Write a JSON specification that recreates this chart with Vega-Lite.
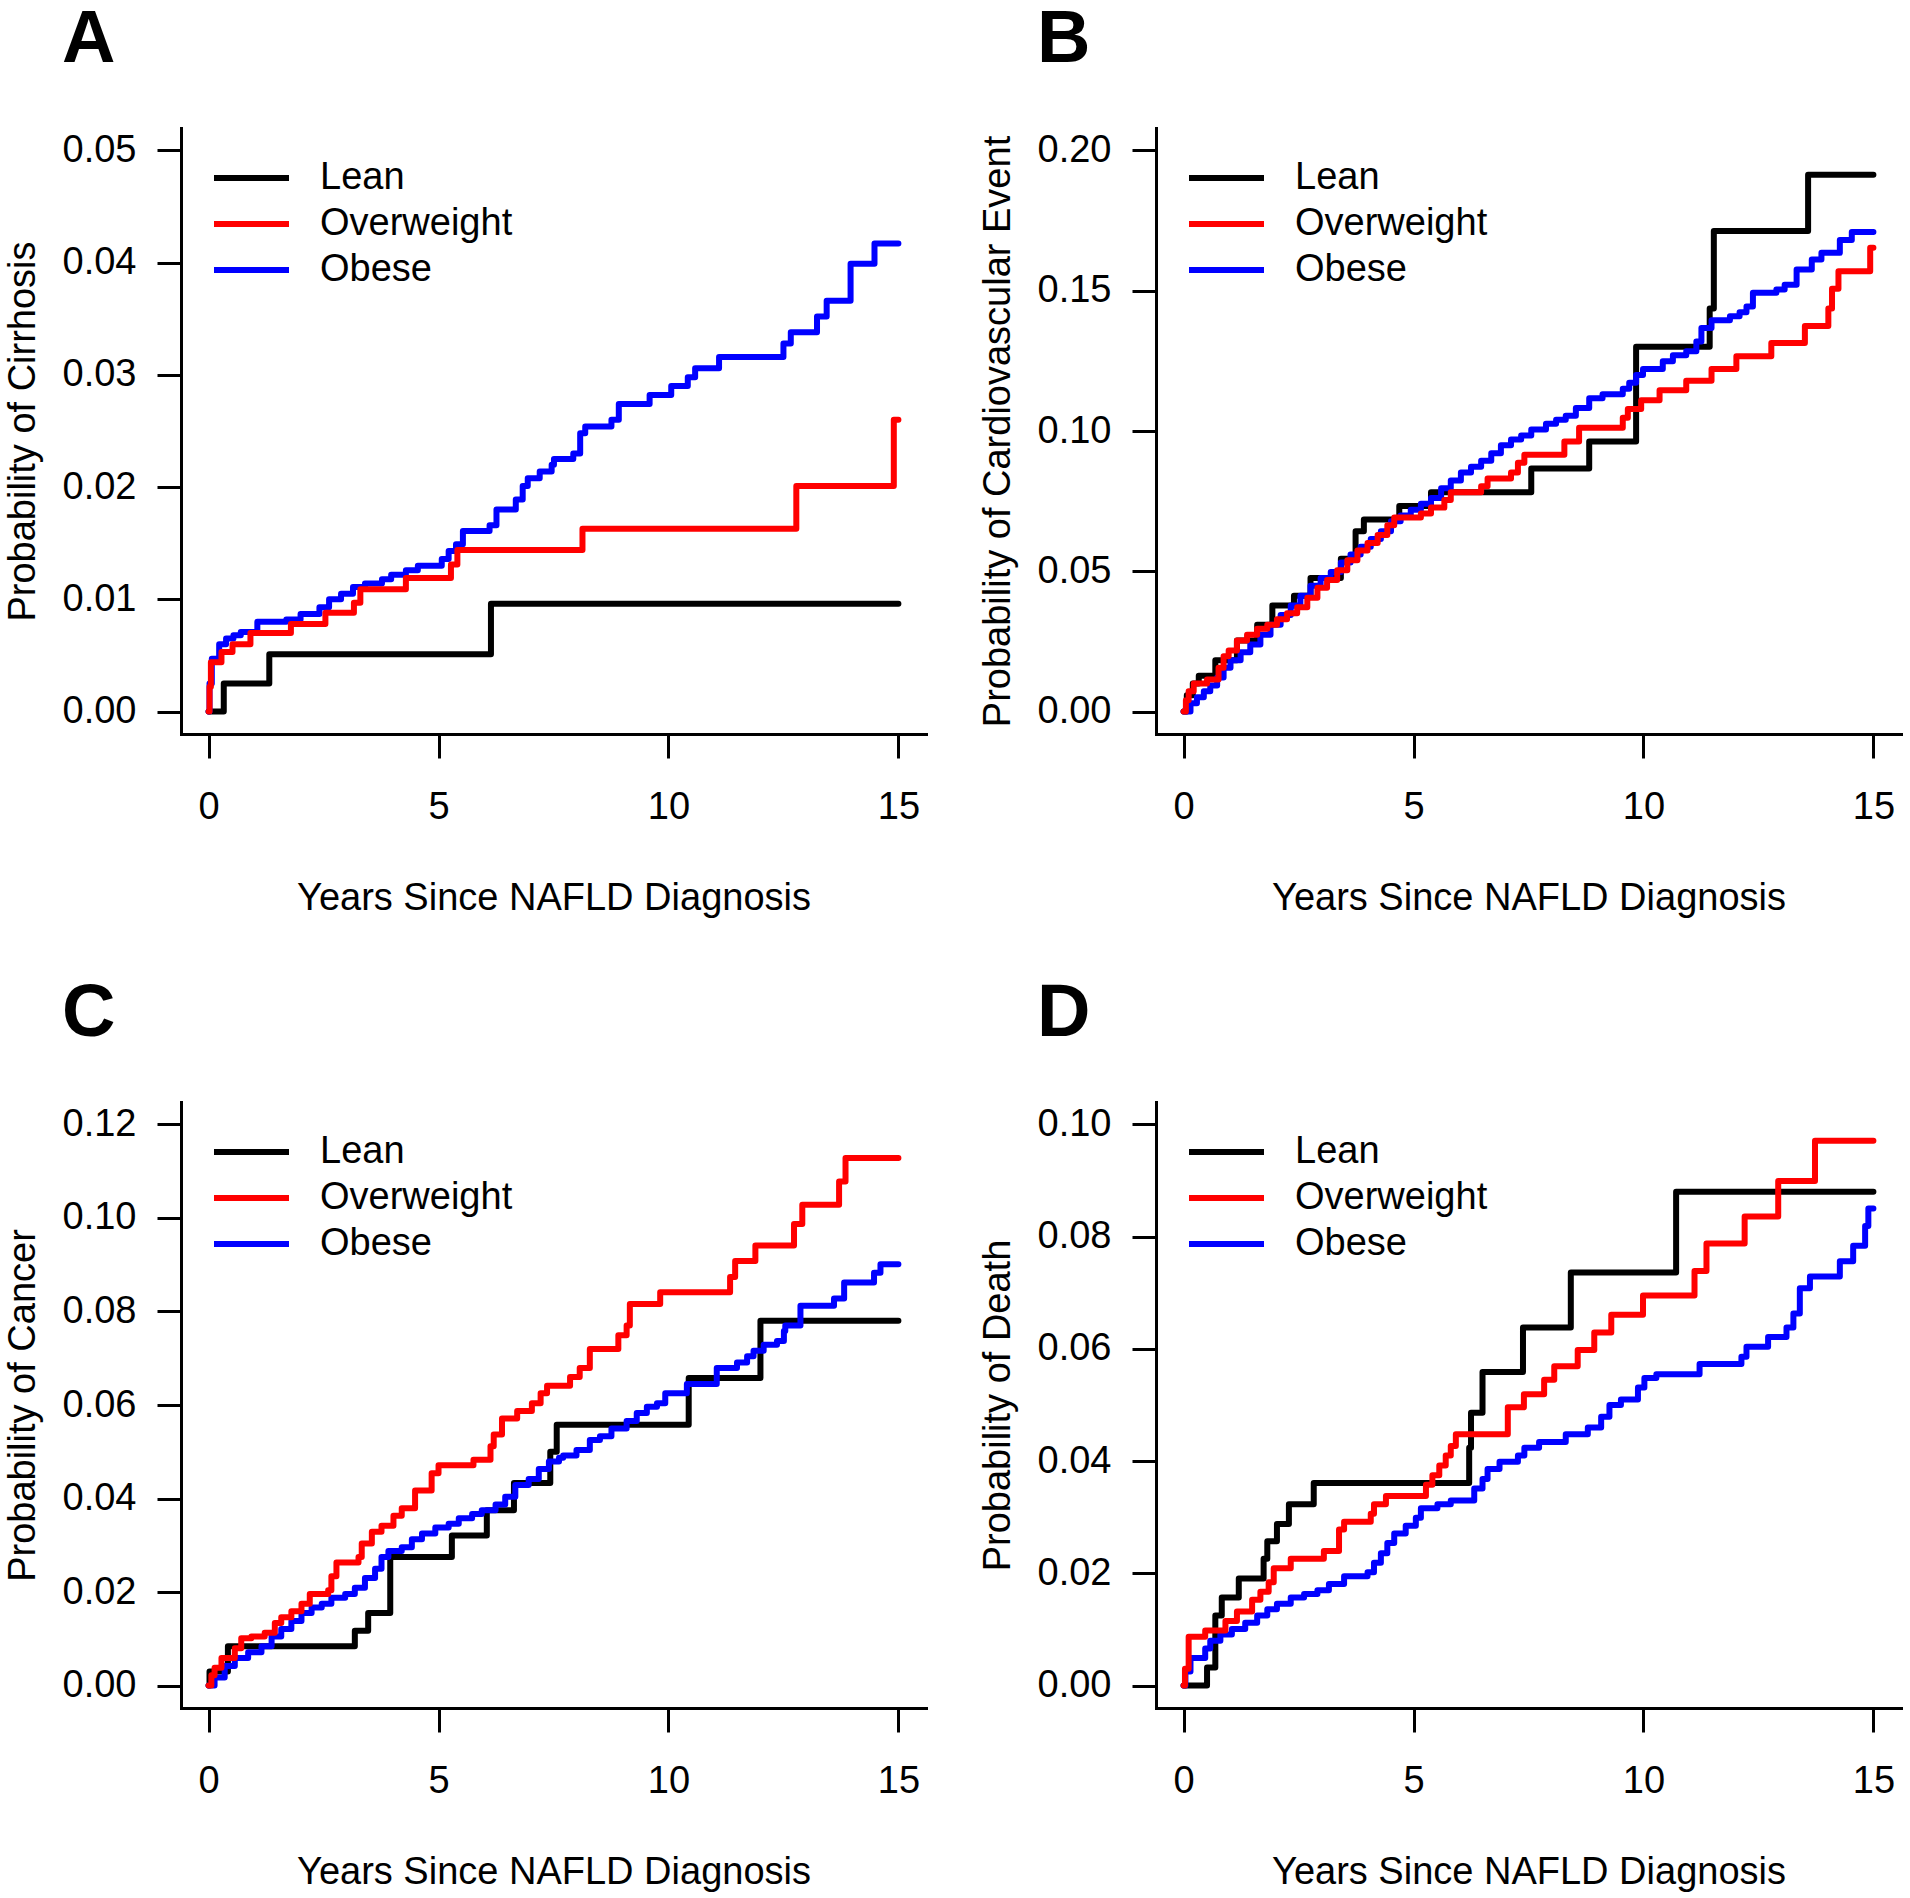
{
  "$schema": "https://vega.github.io/schema/vega-lite/v6.json",
  "background": "white",
  "padding": {"left": 4, "top": 3, "right": 5, "bottom": 5},
  "config": {
    "view": {"stroke": null},
    "font": "Liberation Sans",
    "axis": {"grid": false, "domainColor": "black", "domainWidth": 3, "domainCap": "square", "tickColor": "black", "tickWidth": 3, "tickSize": 24, "labelFont": "Liberation Sans", "labelFontSize": 38, "labelColor": "black", "titleFont": "Liberation Sans", "titleFontSize": 38, "titleFontWeight": "normal", "titleColor": "black", "labelOverlap": false, "labelFlush": false},
    "axisX": {"labelPadding": 60, "labelBaseline": "alphabetic", "titleY": 175, "titleBaseline": "alphabetic"},
    "axisY": {"labelPadding": 21, "titleX": -147, "titleBaseline": "alphabetic"},
    "title": {"anchor": "start", "frame": "group", "dx": -119, "offset": 50, "baseline": "alphabetic", "fontSize": 74, "fontWeight": "bold", "font": "Liberation Sans", "color": "black"},
    "line": {"interpolate": "step-after", "strokeWidth": 6, "strokeCap": "round", "strokeJoin": "round"}
  },
  "datasets": {
    "A": [
      {"group":"Lean","years":0,"prob":0},{"group":"Lean","years":0.33,"prob":0.0025},{"group":"Lean","years":1.32,"prob":0.0051},{"group":"Lean","years":6.14,"prob":0.0096},{"group":"Lean","years":15,"prob":0.0096},
      {"group":"Obese","years":0,"prob":0},{"group":"Obese","years":0.02,"prob":0.0025},{"group":"Obese","years":0.07,"prob":0.0047},{"group":"Obese","years":0.23,"prob":0.006},{"group":"Obese","years":0.38,"prob":0.0065},{"group":"Obese","years":0.54,"prob":0.0068},{"group":"Obese","years":0.7,"prob":0.0071},{"group":"Obese","years":1.06,"prob":0.008},{"group":"Obese","years":1.69,"prob":0.0082},{"group":"Obese","years":2.0,"prob":0.0087},{"group":"Obese","years":2.41,"prob":0.0093},{"group":"Obese","years":2.62,"prob":0.01},{"group":"Obese","years":2.88,"prob":0.0105},{"group":"Obese","years":3.14,"prob":0.0111},{"group":"Obese","years":3.4,"prob":0.0114},{"group":"Obese","years":3.77,"prob":0.0118},{"group":"Obese","years":3.97,"prob":0.0122},{"group":"Obese","years":4.29,"prob":0.0126},{"group":"Obese","years":4.55,"prob":0.013},{"group":"Obese","years":5.07,"prob":0.0136},{"group":"Obese","years":5.22,"prob":0.0143},{"group":"Obese","years":5.38,"prob":0.0149},{"group":"Obese","years":5.53,"prob":0.0161},{"group":"Obese","years":6.11,"prob":0.0166},{"group":"Obese","years":6.26,"prob":0.018},{"group":"Obese","years":6.68,"prob":0.0189},{"group":"Obese","years":6.83,"prob":0.0201},{"group":"Obese","years":6.94,"prob":0.0208},{"group":"Obese","years":7.2,"prob":0.0214},{"group":"Obese","years":7.46,"prob":0.022},{"group":"Obese","years":7.51,"prob":0.0225},{"group":"Obese","years":7.93,"prob":0.023},{"group":"Obese","years":8.08,"prob":0.0248},{"group":"Obese","years":8.19,"prob":0.0254},{"group":"Obese","years":8.76,"prob":0.026},{"group":"Obese","years":8.92,"prob":0.0274},{"group":"Obese","years":9.59,"prob":0.0282},{"group":"Obese","years":10.06,"prob":0.029},{"group":"Obese","years":10.42,"prob":0.0298},{"group":"Obese","years":10.58,"prob":0.0306},{"group":"Obese","years":11.1,"prob":0.0316},{"group":"Obese","years":12.5,"prob":0.0328},{"group":"Obese","years":12.66,"prob":0.0338},{"group":"Obese","years":13.23,"prob":0.0352},{"group":"Obese","years":13.44,"prob":0.0366},{"group":"Obese","years":13.96,"prob":0.0399},{"group":"Obese","years":14.48,"prob":0.0417},{"group":"Obese","years":15,"prob":0.0417},
      {"group":"Overweight","years":0,"prob":0},{"group":"Overweight","years":0.02,"prob":0.0022},{"group":"Overweight","years":0.05,"prob":0.0044},{"group":"Overweight","years":0.28,"prob":0.0053},{"group":"Overweight","years":0.52,"prob":0.006},{"group":"Overweight","years":0.91,"prob":0.007},{"group":"Overweight","years":1.79,"prob":0.0078},{"group":"Overweight","years":2.54,"prob":0.0088},{"group":"Overweight","years":3.16,"prob":0.0097},{"group":"Overweight","years":3.3,"prob":0.0109},{"group":"Overweight","years":4.29,"prob":0.0119},{"group":"Overweight","years":5.27,"prob":0.0131},{"group":"Overweight","years":5.41,"prob":0.0144},{"group":"Overweight","years":8.13,"prob":0.0163},{"group":"Overweight","years":12.78,"prob":0.0201},{"group":"Overweight","years":14.9,"prob":0.026},{"group":"Overweight","years":15,"prob":0.026}
    ],
    "B": [
      {"group":"Lean","years":0,"prob":0},{"group":"Lean","years":0.07,"prob":0.0058},{"group":"Lean","years":0.2,"prob":0.01},{"group":"Lean","years":0.33,"prob":0.0128},{"group":"Lean","years":0.69,"prob":0.0183},{"group":"Lean","years":1.16,"prob":0.0253},{"group":"Lean","years":1.6,"prob":0.0309},{"group":"Lean","years":1.93,"prob":0.0378},{"group":"Lean","years":2.4,"prob":0.0413},{"group":"Lean","years":2.76,"prob":0.0476},{"group":"Lean","years":3.42,"prob":0.0545},{"group":"Lean","years":3.74,"prob":0.0643},{"group":"Lean","years":3.92,"prob":0.0685},{"group":"Lean","years":4.69,"prob":0.0733},{"group":"Lean","years":5.38,"prob":0.0782},{"group":"Lean","years":7.56,"prob":0.0866},{"group":"Lean","years":8.82,"prob":0.0963},{"group":"Lean","years":9.84,"prob":0.13},{"group":"Lean","years":11.44,"prob":0.1437},{"group":"Lean","years":11.53,"prob":0.1713},{"group":"Lean","years":13.58,"prob":0.1913},{"group":"Lean","years":15,"prob":0.1913},
      {"group":"Obese","years":0,"prob":0},{"group":"Obese","years":0.15,"prob":0.003},{"group":"Obese","years":0.29,"prob":0.0051},{"group":"Obese","years":0.44,"prob":0.0072},{"group":"Obese","years":0.58,"prob":0.0093},{"group":"Obese","years":0.73,"prob":0.0121},{"group":"Obese","years":0.87,"prob":0.0156},{"group":"Obese","years":1.02,"prob":0.0183},{"group":"Obese","years":1.24,"prob":0.0211},{"group":"Obese","years":1.45,"prob":0.0239},{"group":"Obese","years":1.67,"prob":0.0274},{"group":"Obese","years":1.89,"prob":0.0309},{"group":"Obese","years":2.11,"prob":0.0344},{"group":"Obese","years":2.33,"prob":0.0378},{"group":"Obese","years":2.54,"prob":0.0413},{"group":"Obese","years":2.76,"prob":0.0448},{"group":"Obese","years":2.98,"prob":0.0476},{"group":"Obese","years":3.2,"prob":0.0497},{"group":"Obese","years":3.42,"prob":0.0531},{"group":"Obese","years":3.63,"prob":0.056},{"group":"Obese","years":3.85,"prob":0.0587},{"group":"Obese","years":4.07,"prob":0.0615},{"group":"Obese","years":4.29,"prob":0.0643},{"group":"Obese","years":4.51,"prob":0.0678},{"group":"Obese","years":4.72,"prob":0.0699},{"group":"Obese","years":4.94,"prob":0.0719},{"group":"Obese","years":5.16,"prob":0.0741},{"group":"Obese","years":5.38,"prob":0.0761},{"group":"Obese","years":5.6,"prob":0.0796},{"group":"Obese","years":5.81,"prob":0.0824},{"group":"Obese","years":6.03,"prob":0.0852},{"group":"Obese","years":6.25,"prob":0.0873},{"group":"Obese","years":6.47,"prob":0.0894},{"group":"Obese","years":6.69,"prob":0.0921},{"group":"Obese","years":6.9,"prob":0.0949},{"group":"Obese","years":7.12,"prob":0.097},{"group":"Obese","years":7.34,"prob":0.0984},{"group":"Obese","years":7.56,"prob":0.1005},{"group":"Obese","years":7.88,"prob":0.1026},{"group":"Obese","years":8.1,"prob":0.104},{"group":"Obese","years":8.31,"prob":0.1054},{"group":"Obese","years":8.53,"prob":0.1082},{"group":"Obese","years":8.82,"prob":0.1117},{"group":"Obese","years":9.11,"prob":0.1131},{"group":"Obese","years":9.55,"prob":0.1151},{"group":"Obese","years":9.69,"prob":0.1172},{"group":"Obese","years":9.84,"prob":0.12},{"group":"Obese","years":9.99,"prob":0.1221},{"group":"Obese","years":10.42,"prob":0.1249},{"group":"Obese","years":10.64,"prob":0.127},{"group":"Obese","years":10.93,"prob":0.1284},{"group":"Obese","years":11.15,"prob":0.1319},{"group":"Obese","years":11.26,"prob":0.1367},{"group":"Obese","years":11.48,"prob":0.1395},{"group":"Obese","years":11.88,"prob":0.1409},{"group":"Obese","years":12.09,"prob":0.1423},{"group":"Obese","years":12.24,"prob":0.1444},{"group":"Obese","years":12.38,"prob":0.1493},{"group":"Obese","years":12.89,"prob":0.1504},{"group":"Obese","years":13.07,"prob":0.1521},{"group":"Obese","years":13.33,"prob":0.1576},{"group":"Obese","years":13.66,"prob":0.1611},{"group":"Obese","years":13.87,"prob":0.1635},{"group":"Obese","years":14.27,"prob":0.1681},{"group":"Obese","years":14.53,"prob":0.1709},{"group":"Obese","years":15,"prob":0.1709},
      {"group":"Overweight","years":0,"prob":0},{"group":"Overweight","years":0.05,"prob":0.004},{"group":"Overweight","years":0.11,"prob":0.0072},{"group":"Overweight","years":0.22,"prob":0.01},{"group":"Overweight","years":0.51,"prob":0.0114},{"group":"Overweight","years":0.76,"prob":0.0156},{"group":"Overweight","years":0.87,"prob":0.0197},{"group":"Overweight","years":0.98,"prob":0.0218},{"group":"Overweight","years":1.16,"prob":0.0253},{"group":"Overweight","years":1.38,"prob":0.0274},{"group":"Overweight","years":1.6,"prob":0.0295},{"group":"Overweight","years":1.82,"prob":0.0309},{"group":"Overweight","years":2.03,"prob":0.0329},{"group":"Overweight","years":2.25,"prob":0.035},{"group":"Overweight","years":2.47,"prob":0.0372},{"group":"Overweight","years":2.69,"prob":0.0406},{"group":"Overweight","years":2.91,"prob":0.0441},{"group":"Overweight","years":3.12,"prob":0.0469},{"group":"Overweight","years":3.34,"prob":0.0504},{"group":"Overweight","years":3.56,"prob":0.0539},{"group":"Overweight","years":3.78,"prob":0.0574},{"group":"Overweight","years":4.0,"prob":0.0601},{"group":"Overweight","years":4.22,"prob":0.0629},{"group":"Overweight","years":4.43,"prob":0.0664},{"group":"Overweight","years":4.58,"prob":0.0692},{"group":"Overweight","years":5.16,"prob":0.0706},{"group":"Overweight","years":5.38,"prob":0.0727},{"group":"Overweight","years":5.67,"prob":0.0754},{"group":"Overweight","years":5.81,"prob":0.0782},{"group":"Overweight","years":6.47,"prob":0.0803},{"group":"Overweight","years":6.61,"prob":0.0831},{"group":"Overweight","years":7.12,"prob":0.0852},{"group":"Overweight","years":7.27,"prob":0.0887},{"group":"Overweight","years":7.41,"prob":0.0915},{"group":"Overweight","years":8.28,"prob":0.0963},{"group":"Overweight","years":8.6,"prob":0.1012},{"group":"Overweight","years":9.55,"prob":0.1047},{"group":"Overweight","years":9.66,"prob":0.1078},{"group":"Overweight","years":9.95,"prob":0.111},{"group":"Overweight","years":10.35,"prob":0.1145},{"group":"Overweight","years":10.93,"prob":0.1179},{"group":"Overweight","years":11.48,"prob":0.1221},{"group":"Overweight","years":12.02,"prob":0.1266},{"group":"Overweight","years":12.78,"prob":0.1314},{"group":"Overweight","years":13.51,"prob":0.1374},{"group":"Overweight","years":14.02,"prob":0.1437},{"group":"Overweight","years":14.1,"prob":0.1507},{"group":"Overweight","years":14.24,"prob":0.1569},{"group":"Overweight","years":14.93,"prob":0.1653},{"group":"Overweight","years":15,"prob":0.1653}
    ],
    "C": [
      {"group":"Lean","years":0,"prob":0},{"group":"Lean","years":0.02,"prob":0.003},{"group":"Lean","years":0.42,"prob":0.0084},{"group":"Lean","years":3.18,"prob":0.0117},{"group":"Lean","years":3.47,"prob":0.0155},{"group":"Lean","years":3.95,"prob":0.0275},{"group":"Lean","years":5.29,"prob":0.0321},{"group":"Lean","years":6.05,"prob":0.0375},{"group":"Lean","years":6.64,"prob":0.0433},{"group":"Lean","years":7.43,"prob":0.05},{"group":"Lean","years":7.57,"prob":0.0558},{"group":"Lean","years":10.44,"prob":0.0658},{"group":"Lean","years":12.0,"prob":0.078},{"group":"Lean","years":15,"prob":0.078},
      {"group":"Obese","years":0,"prob":0},{"group":"Obese","years":0.13,"prob":0.0017},{"group":"Obese","years":0.35,"prob":0.0042},{"group":"Obese","years":0.57,"prob":0.0059},{"group":"Obese","years":0.86,"prob":0.0071},{"group":"Obese","years":1.15,"prob":0.0084},{"group":"Obese","years":1.37,"prob":0.0105},{"group":"Obese","years":1.58,"prob":0.0121},{"group":"Obese","years":1.8,"prob":0.0138},{"group":"Obese","years":2.02,"prob":0.0155},{"group":"Obese","years":2.24,"prob":0.0167},{"group":"Obese","years":2.46,"prob":0.0175},{"group":"Obese","years":2.67,"prob":0.0188},{"group":"Obese","years":2.97,"prob":0.0196},{"group":"Obese","years":3.18,"prob":0.0209},{"group":"Obese","years":3.4,"prob":0.023},{"group":"Obese","years":3.62,"prob":0.025},{"group":"Obese","years":3.76,"prob":0.0275},{"group":"Obese","years":3.91,"prob":0.0288},{"group":"Obese","years":4.2,"prob":0.0296},{"group":"Obese","years":4.42,"prob":0.0313},{"group":"Obese","years":4.64,"prob":0.0325},{"group":"Obese","years":4.93,"prob":0.0338},{"group":"Obese","years":5.22,"prob":0.0346},{"group":"Obese","years":5.44,"prob":0.0358},{"group":"Obese","years":5.73,"prob":0.0367},{"group":"Obese","years":5.94,"prob":0.0375},{"group":"Obese","years":6.24,"prob":0.0387},{"group":"Obese","years":6.45,"prob":0.0404},{"group":"Obese","years":6.67,"prob":0.0429},{"group":"Obese","years":6.96,"prob":0.0442},{"group":"Obese","years":7.18,"prob":0.0463},{"group":"Obese","years":7.4,"prob":0.0479},{"group":"Obese","years":7.62,"prob":0.0487},{"group":"Obese","years":7.71,"prob":0.0492},{"group":"Obese","years":8.0,"prob":0.0504},{"group":"Obese","years":8.29,"prob":0.0525},{"group":"Obese","years":8.51,"prob":0.0533},{"group":"Obese","years":8.76,"prob":0.055},{"group":"Obese","years":9.09,"prob":0.0566},{"group":"Obese","years":9.31,"prob":0.0583},{"group":"Obese","years":9.53,"prob":0.0596},{"group":"Obese","years":9.75,"prob":0.0604},{"group":"Obese","years":9.93,"prob":0.0625},{"group":"Obese","years":10.4,"prob":0.0645},{"group":"Obese","years":11.05,"prob":0.0679},{"group":"Obese","years":11.49,"prob":0.0691},{"group":"Obese","years":11.71,"prob":0.0704},{"group":"Obese","years":11.85,"prob":0.0716},{"group":"Obese","years":12.07,"prob":0.0729},{"group":"Obese","years":12.36,"prob":0.0737},{"group":"Obese","years":12.51,"prob":0.0758},{"group":"Obese","years":12.54,"prob":0.077},{"group":"Obese","years":12.87,"prob":0.0812},{"group":"Obese","years":13.6,"prob":0.0828},{"group":"Obese","years":13.82,"prob":0.0862},{"group":"Obese","years":14.47,"prob":0.0883},{"group":"Obese","years":14.61,"prob":0.0901},{"group":"Obese","years":15,"prob":0.0901},
      {"group":"Overweight","years":0,"prob":0},{"group":"Overweight","years":0.06,"prob":0.0022},{"group":"Overweight","years":0.13,"prob":0.0038},{"group":"Overweight","years":0.28,"prob":0.0059},{"group":"Overweight","years":0.57,"prob":0.008},{"group":"Overweight","years":0.71,"prob":0.0101},{"group":"Overweight","years":0.93,"prob":0.0105},{"group":"Overweight","years":1.22,"prob":0.0113},{"group":"Overweight","years":1.44,"prob":0.0134},{"group":"Overweight","years":1.58,"prob":0.0146},{"group":"Overweight","years":1.8,"prob":0.0159},{"group":"Overweight","years":2.02,"prob":0.0175},{"group":"Overweight","years":2.2,"prob":0.0196},{"group":"Overweight","years":2.6,"prob":0.0204},{"group":"Overweight","years":2.67,"prob":0.0234},{"group":"Overweight","years":2.78,"prob":0.0263},{"group":"Overweight","years":3.26,"prob":0.0275},{"group":"Overweight","years":3.33,"prob":0.0304},{"group":"Overweight","years":3.55,"prob":0.0329},{"group":"Overweight","years":3.76,"prob":0.0342},{"group":"Overweight","years":4.02,"prob":0.0363},{"group":"Overweight","years":4.2,"prob":0.0379},{"group":"Overweight","years":4.49,"prob":0.0417},{"group":"Overweight","years":4.85,"prob":0.0454},{"group":"Overweight","years":5.0,"prob":0.0471},{"group":"Overweight","years":5.76,"prob":0.0483},{"group":"Overweight","years":6.13,"prob":0.0512},{"group":"Overweight","years":6.2,"prob":0.0537},{"group":"Overweight","years":6.38,"prob":0.0571},{"group":"Overweight","years":6.71,"prob":0.0587},{"group":"Overweight","years":7.03,"prob":0.0604},{"group":"Overweight","years":7.22,"prob":0.0625},{"group":"Overweight","years":7.36,"prob":0.0641},{"group":"Overweight","years":7.86,"prob":0.066},{"group":"Overweight","years":8.07,"prob":0.0679},{"group":"Overweight","years":8.29,"prob":0.072},{"group":"Overweight","years":8.91,"prob":0.0749},{"group":"Overweight","years":9.09,"prob":0.077},{"group":"Overweight","years":9.16,"prob":0.0816},{"group":"Overweight","years":9.82,"prob":0.0841},{"group":"Overweight","years":11.34,"prob":0.0874},{"group":"Overweight","years":11.45,"prob":0.0908},{"group":"Overweight","years":11.89,"prob":0.0941},{"group":"Overweight","years":12.73,"prob":0.0987},{"group":"Overweight","years":12.91,"prob":0.1028},{"group":"Overweight","years":13.71,"prob":0.1078},{"group":"Overweight","years":13.85,"prob":0.1128},{"group":"Overweight","years":15,"prob":0.1128}
    ],
    "D": [
      {"group":"Lean","years":0,"prob":0},{"group":"Lean","years":0.51,"prob":0.0032},{"group":"Lean","years":0.69,"prob":0.0125},{"group":"Lean","years":0.83,"prob":0.0157},{"group":"Lean","years":1.2,"prob":0.0191},{"group":"Lean","years":1.74,"prob":0.0226},{"group":"Lean","years":1.82,"prob":0.0257},{"group":"Lean","years":2.03,"prob":0.0288},{"group":"Lean","years":2.29,"prob":0.0323},{"group":"Lean","years":2.83,"prob":0.0361},{"group":"Lean","years":6.21,"prob":0.0424},{"group":"Lean","years":6.25,"prob":0.0486},{"group":"Lean","years":6.5,"prob":0.0559},{"group":"Lean","years":7.38,"prob":0.0638},{"group":"Lean","years":8.42,"prob":0.0736},{"group":"Lean","years":10.71,"prob":0.088},{"group":"Lean","years":15,"prob":0.088},
      {"group":"Obese","years":0,"prob":0},{"group":"Obese","years":0.04,"prob":0.0025},{"group":"Obese","years":0.15,"prob":0.0049},{"group":"Obese","years":0.47,"prob":0.0066},{"group":"Obese","years":0.58,"prob":0.008},{"group":"Obese","years":0.8,"prob":0.0091},{"group":"Obese","years":1.05,"prob":0.0101},{"group":"Obese","years":1.34,"prob":0.0112},{"group":"Obese","years":1.6,"prob":0.0125},{"group":"Obese","years":1.82,"prob":0.0136},{"group":"Obese","years":2.03,"prob":0.0146},{"group":"Obese","years":2.33,"prob":0.0157},{"group":"Obese","years":2.62,"prob":0.0163},{"group":"Obese","years":2.91,"prob":0.017},{"group":"Obese","years":3.16,"prob":0.0181},{"group":"Obese","years":3.49,"prob":0.0195},{"group":"Obese","years":4.0,"prob":0.0202},{"group":"Obese","years":4.14,"prob":0.0219},{"group":"Obese","years":4.29,"prob":0.0236},{"group":"Obese","years":4.43,"prob":0.0254},{"group":"Obese","years":4.58,"prob":0.0271},{"group":"Obese","years":4.83,"prob":0.0285},{"group":"Obese","years":5.05,"prob":0.0299},{"group":"Obese","years":5.16,"prob":0.0316},{"group":"Obese","years":5.52,"prob":0.0323},{"group":"Obese","years":5.81,"prob":0.033},{"group":"Obese","years":6.32,"prob":0.0351},{"group":"Obese","years":6.5,"prob":0.0368},{"group":"Obese","years":6.61,"prob":0.0386},{"group":"Obese","years":6.87,"prob":0.0399},{"group":"Obese","years":7.27,"prob":0.041},{"group":"Obese","years":7.41,"prob":0.0424},{"group":"Obese","years":7.73,"prob":0.0434},{"group":"Obese","years":8.31,"prob":0.0448},{"group":"Obese","years":8.79,"prob":0.046},{"group":"Obese","years":9.08,"prob":0.0479},{"group":"Obese","years":9.26,"prob":0.05},{"group":"Obese","years":9.51,"prob":0.051},{"group":"Obese","years":9.88,"prob":0.0531},{"group":"Obese","years":10.02,"prob":0.0548},{"group":"Obese","years":10.28,"prob":0.0555},{"group":"Obese","years":11.22,"prob":0.0573},{"group":"Obese","years":12.13,"prob":0.0586},{"group":"Obese","years":12.24,"prob":0.0604},{"group":"Obese","years":12.71,"prob":0.0621},{"group":"Obese","years":13.11,"prob":0.0638},{"group":"Obese","years":13.26,"prob":0.0663},{"group":"Obese","years":13.4,"prob":0.0708},{"group":"Obese","years":13.62,"prob":0.0729},{"group":"Obese","years":14.27,"prob":0.0756},{"group":"Obese","years":14.56,"prob":0.0784},{"group":"Obese","years":14.82,"prob":0.0819},{"group":"Obese","years":14.89,"prob":0.085},{"group":"Obese","years":15,"prob":0.085},
      {"group":"Overweight","years":0,"prob":0},{"group":"Overweight","years":0.03,"prob":0.003},{"group":"Overweight","years":0.11,"prob":0.0087},{"group":"Overweight","years":0.47,"prob":0.0098},{"group":"Overweight","years":0.91,"prob":0.0115},{"group":"Overweight","years":1.16,"prob":0.0132},{"group":"Overweight","years":1.49,"prob":0.0153},{"group":"Overweight","years":1.67,"prob":0.0167},{"group":"Overweight","years":1.85,"prob":0.0184},{"group":"Overweight","years":1.96,"prob":0.0209},{"group":"Overweight","years":2.33,"prob":0.0226},{"group":"Overweight","years":3.05,"prob":0.024},{"group":"Overweight","years":3.38,"prob":0.0278},{"group":"Overweight","years":3.49,"prob":0.0292},{"group":"Overweight","years":4.07,"prob":0.0306},{"group":"Overweight","years":4.14,"prob":0.0323},{"group":"Overweight","years":4.4,"prob":0.0338},{"group":"Overweight","years":5.27,"prob":0.0358},{"group":"Overweight","years":5.41,"prob":0.0375},{"group":"Overweight","years":5.56,"prob":0.0392},{"group":"Overweight","years":5.7,"prob":0.041},{"group":"Overweight","years":5.81,"prob":0.0427},{"group":"Overweight","years":5.92,"prob":0.0448},{"group":"Overweight","years":7.05,"prob":0.0496},{"group":"Overweight","years":7.4,"prob":0.0519},{"group":"Overweight","years":7.84,"prob":0.0545},{"group":"Overweight","years":8.06,"prob":0.0569},{"group":"Overweight","years":8.57,"prob":0.0598},{"group":"Overweight","years":8.93,"prob":0.0629},{"group":"Overweight","years":9.3,"prob":0.0661},{"group":"Overweight","years":9.99,"prob":0.0695},{"group":"Overweight","years":11.11,"prob":0.0739},{"group":"Overweight","years":11.37,"prob":0.0788},{"group":"Overweight","years":12.2,"prob":0.0836},{"group":"Overweight","years":12.93,"prob":0.0899},{"group":"Overweight","years":13.73,"prob":0.0971},{"group":"Overweight","years":15,"prob":0.0971}
    ]
  },
  "columns": 2,
  "spacing": {"row": 368, "column": 230},
  "bounds": "flush",
  "resolve": {"scale": {"x": "independent", "y": "independent", "color": "independent"}, "axis": {"x": "independent", "y": "independent"}, "legend": {"color": "independent"}},
  "concat": [
    {
      "width": 745, "height": 606,
      "title": {"text": "A"},
      "data": {"name": "A"},
      "mark": {"type": "line"},
      "encoding": {
        "x": {"field": "years", "type": "quantitative", "scale": {"domain": [-0.6, 15.6], "nice": false, "zero": false}, "axis": {"values": [0, 5, 10, 15], "format": "d", "title": "Years Since NAFLD Diagnosis"}},
        "y": {"field": "prob", "type": "quantitative", "scale": {"domain": [-0.002, 0.052], "nice": false, "zero": false}, "axis": {"values": [0, 0.01, 0.02, 0.03, 0.04, 0.05], "format": ".2f", "title": "Probability of Cirrhosis"}},
        "color": {"field": "group", "type": "nominal", "scale": {"domain": ["Lean", "Overweight", "Obese"], "range": ["#000000", "#ff0000", "#0000ff"]}, "legend": {"title": null, "orient": "none", "legendX": 30, "legendY": 27, "padding": 0, "symbolType": "stroke", "symbolSize": 5625, "symbolStrokeWidth": 6, "clipHeight": 46, "rowPadding": 0, "labelOffset": 28, "labelFontSize": 38, "labelFont": "Liberation Sans", "labelColor": "black", "labelLimit": 400}}
      }
    },
    {
      "width": 745, "height": 606,
      "title": {"text": "B"},
      "data": {"name": "B"},
      "mark": {"type": "line"},
      "encoding": {
        "x": {"field": "years", "type": "quantitative", "scale": {"domain": [-0.6, 15.6], "nice": false, "zero": false}, "axis": {"values": [0, 5, 10, 15], "format": "d", "title": "Years Since NAFLD Diagnosis"}},
        "y": {"field": "prob", "type": "quantitative", "scale": {"domain": [-0.008, 0.208], "nice": false, "zero": false}, "axis": {"values": [0, 0.05, 0.1, 0.15, 0.2], "format": ".2f", "title": "Probability of Cardiovascular Event"}},
        "color": {"field": "group", "type": "nominal", "scale": {"domain": ["Lean", "Overweight", "Obese"], "range": ["#000000", "#ff0000", "#0000ff"]}, "legend": {"title": null, "orient": "none", "legendX": 30, "legendY": 27, "padding": 0, "symbolType": "stroke", "symbolSize": 5625, "symbolStrokeWidth": 6, "clipHeight": 46, "rowPadding": 0, "labelOffset": 28, "labelFontSize": 38, "labelFont": "Liberation Sans", "labelColor": "black", "labelLimit": 400}}
      }
    },
    {
      "width": 745, "height": 606,
      "title": {"text": "C"},
      "data": {"name": "C"},
      "mark": {"type": "line"},
      "encoding": {
        "x": {"field": "years", "type": "quantitative", "scale": {"domain": [-0.6, 15.6], "nice": false, "zero": false}, "axis": {"values": [0, 5, 10, 15], "format": "d", "title": "Years Since NAFLD Diagnosis"}},
        "y": {"field": "prob", "type": "quantitative", "scale": {"domain": [-0.0048, 0.1248], "nice": false, "zero": false}, "axis": {"values": [0, 0.02, 0.04, 0.06, 0.08, 0.1, 0.12], "format": ".2f", "title": "Probability of Cancer"}},
        "color": {"field": "group", "type": "nominal", "scale": {"domain": ["Lean", "Overweight", "Obese"], "range": ["#000000", "#ff0000", "#0000ff"]}, "legend": {"title": null, "orient": "none", "legendX": 30, "legendY": 27, "padding": 0, "symbolType": "stroke", "symbolSize": 5625, "symbolStrokeWidth": 6, "clipHeight": 46, "rowPadding": 0, "labelOffset": 28, "labelFontSize": 38, "labelFont": "Liberation Sans", "labelColor": "black", "labelLimit": 400}}
      }
    },
    {
      "width": 745, "height": 606,
      "title": {"text": "D"},
      "data": {"name": "D"},
      "mark": {"type": "line"},
      "encoding": {
        "x": {"field": "years", "type": "quantitative", "scale": {"domain": [-0.6, 15.6], "nice": false, "zero": false}, "axis": {"values": [0, 5, 10, 15], "format": "d", "title": "Years Since NAFLD Diagnosis"}},
        "y": {"field": "prob", "type": "quantitative", "scale": {"domain": [-0.004, 0.104], "nice": false, "zero": false}, "axis": {"values": [0, 0.02, 0.04, 0.06, 0.08, 0.1], "format": ".2f", "title": "Probability of Death"}},
        "color": {"field": "group", "type": "nominal", "scale": {"domain": ["Lean", "Overweight", "Obese"], "range": ["#000000", "#ff0000", "#0000ff"]}, "legend": {"title": null, "orient": "none", "legendX": 30, "legendY": 27, "padding": 0, "symbolType": "stroke", "symbolSize": 5625, "symbolStrokeWidth": 6, "clipHeight": 46, "rowPadding": 0, "labelOffset": 28, "labelFontSize": 38, "labelFont": "Liberation Sans", "labelColor": "black", "labelLimit": 400}}
      }
    }
  ]
}
